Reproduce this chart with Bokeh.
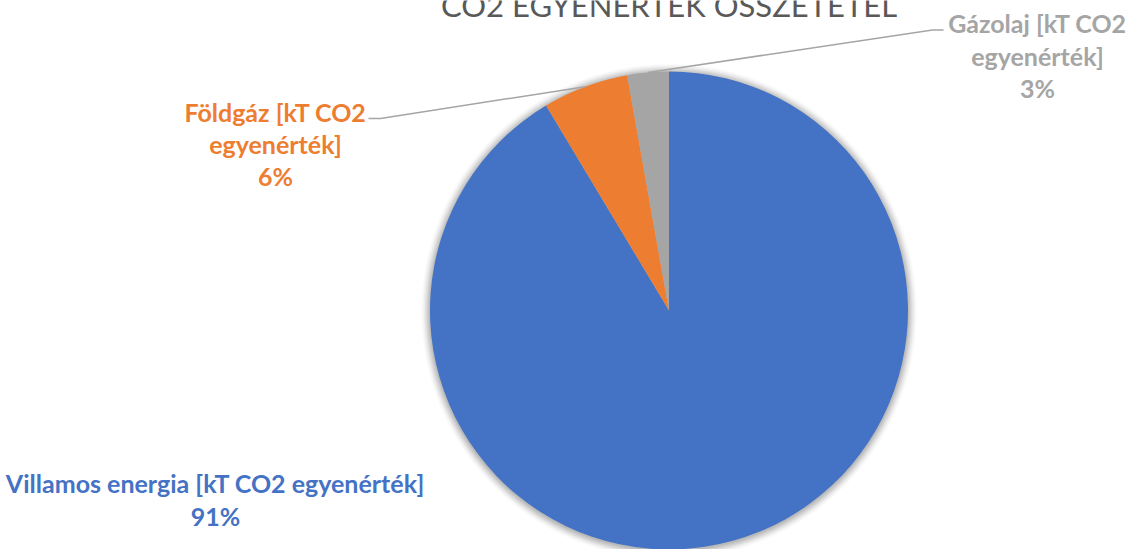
import numpy as np
from bokeh.plotting import figure
from bokeh.models import Range1d, ColumnDataSource
from bokeh.core.properties import value
from bokeh.embed import file_html
from bokeh.resources import INLINE

# ---- data ----
categories = ["Villamos energia [kT CO2 egyenérték]",
              "Földgáz [kT CO2 egyenérték]",
              "Gázolaj [kT CO2 egyenérték]"]
values = [91.4, 5.8, 2.8]
colors = ["#4472C4", "#ED7D31", "#A5A5A5"]
title_text = "CO2 EGYENÉRTÉK ÖSSZETÉTEL"

W, H = 1128, 549

def Y(py):
    return H - py

p = figure(width=W, height=H, output_backend="svg", toolbar_location=None,
           x_range=Range1d(0, W), y_range=Range1d(0, H),
           min_border=0)
p.axis.visible = False
p.grid.visible = False
p.outline_line_color = None
p.background_fill_color = "white"
p.border_fill_color = "white"

cx, cy, r = 668.5, Y(310), 239

# soft shadow
for k, a in zip(range(10, 0, -1), [0.012, 0.015, 0.018, 0.022, 0.026, 0.03, 0.034, 0.04, 0.045, 0.05]):
    p.circle(x=[cx], y=[cy - 1], radius=r + k * 0.9, fill_color="black", fill_alpha=a, line_color=None)

vals = np.array(values, dtype=float)
frac = vals / vals.sum()
cum = np.concatenate([[0], np.cumsum(frac)])
start = np.pi / 2 - cum[1:] * 2 * np.pi
end = np.pi / 2 - cum[:-1] * 2 * np.pi
src = ColumnDataSource(dict(x=[cx] * 3, y=[cy] * 3, s=start, e=end, c=colors))
p.wedge(x="x", y="y", radius=r, start_angle="s", end_angle="e", fill_color="c",
        line_color=None, source=src)

# leader lines
mid = np.pi / 2 - (cum[:-1] + frac / 2) * 2 * np.pi
def edge(i):
    return cx + r * np.cos(mid[i]), cy + r * np.sin(mid[i])
ex, ey = edge(2)
p.line([943, 932, ex], [Y(29.5), Y(29.5), ey], line_color="#A5A5A5", line_width=1.5)
ex, ey = edge(1)
p.line([368, 380, ex], [Y(118), Y(118), ey], line_color="#A5A5A5", line_width=1.5)

# title
p.text(x=[cx], y=[Y(4)], text=[title_text], text_font=value("Lato"),
       text_font_size="31px", text_color="#595959", text_align="center",
       text_baseline="alphabetic")

# labels
pct = [f"{round(f * 100):.0f}%" for f in frac]
font = value("Lato")
def lab(lines, x, ys, color):
    for t, yy in zip(lines, ys):
        p.text(x=[x], y=[Y(yy)], text=[t], text_font=font, text_font_style="bold",
               text_font_size="25px", text_color=color, text_align="center",
               text_baseline="middle")

name0 = categories[0]
lab([name0, pct[0]], 215, [482, 515], colors[0])
n1 = categories[1].split(" egyen")
lab([n1[0], "egyen" + n1[1], pct[1]], 275, [111, 143, 175], colors[1])
n2 = categories[2].split(" egyen")
lab([n2[0], "egyen" + n2[1], pct[2]], 1037, [22, 55, 87], colors[2])

open("out.html", "w").write(file_html(p, INLINE))
